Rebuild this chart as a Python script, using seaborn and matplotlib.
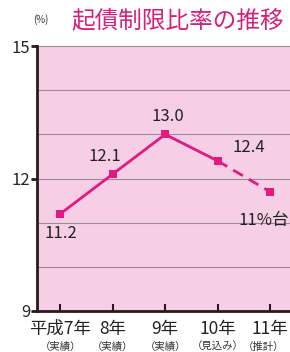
import pandas as pd
import seaborn as sns
import matplotlib.pyplot as plt

# data
years = ['平成7年', '8年', '9年', '10年', '11年']
notes = ['（実績）', '（実績）', '（実績）', '（見込み）', '（推計）']
ratio = [11.2, 12.1, 13.0, 12.4, 11.7]
point_labels = ['11.2', '12.1', '13.0', '12.4', '11%台']

sns.set_theme(style='white')
plt.rcParams['font.family'] = ['Noto Sans CJK JP', 'DejaVu Sans']

pink = '#e4197f'
df = pd.DataFrame({'x': range(len(years)), 'ratio': ratio})
df_solid = df.iloc[:4]
df_dash = df.iloc[3:]

fig = plt.figure(figsize=(2.9, 3.52), dpi=100)
ax = fig.add_axes([0.128, 0.1165, 0.912, 0.7525])
ax.set_facecolor('#f6cfe6')

for g in [10, 11, 12, 13, 14, 15]:
    ax.axhline(g, color='#9a8a98', lw=0.8, zorder=1)

sns.lineplot(data=df_solid, x='x', y='ratio', ax=ax, color=pink, lw=2,
             marker='s', markersize=6, markeredgewidth=0, zorder=3)
sns.lineplot(data=df_dash, x='x', y='ratio', ax=ax, color=pink, lw=2,
             linestyle=(0, (4, 2.5)), marker='s', markersize=6,
             markeredgewidth=0, zorder=3)

# value labels
offsets = [(0.02, -0.45, 'center'), (-0.15, 0.4, 'center'), (0.05, 0.4, 'center'),
           (0.6, 0.3, 'center'), (-0.6, -0.65, 'left')]
for i, (dx, dy, ha) in enumerate(offsets):
    ax.text(i + dx, ratio[i] + dy, point_labels[i], ha=ha, va='center',
            fontsize=12, color='#222222')

ax.set_xlim(-0.44, 4.6)
ax.set_ylim(9, 15)
ax.set_yticks([9, 12, 15])
ax.set_yticklabels(['9', '12', '15'], fontsize=12)
ax.set_xticks(range(len(years)))
ax.set_xticklabels([''] * len(years))
ax.tick_params(axis='y', direction='out', length=4, width=2, color='#2a1a1a',
               left=True, pad=1)
ax.tick_params(axis='x', direction='in', length=5, width=1.5, color='#2a1a1a',
               bottom=True)

for i in range(len(years)):
    nx = i - 0.12 if i == len(years) - 1 else i
    ax.text(i, 8.6, years[i], ha='center', va='center', fontsize=12.5,
            color='#222222', clip_on=False)
    ax.text(nx, 8.18, notes[i], ha='center', va='center', fontsize=7.5,
            color='#333333', clip_on=False)

for side in ['top', 'right']:
    ax.spines[side].set_visible(False)
for side in ['left', 'bottom']:
    ax.spines[side].set_color('#2a1a1a')
    ax.spines[side].set_linewidth(2)

ax.set_xlabel('')
ax.set_ylabel('')

fig.text(0.115, 0.945, '(%)', fontsize=7, color='#333333', ha='left', va='center')
fig.text(0.245, 0.94, '起債制限比率の推移', fontsize=17, color='#d6207a',
         ha='left', va='center')

fig.savefig('out.png', dpi=100)
